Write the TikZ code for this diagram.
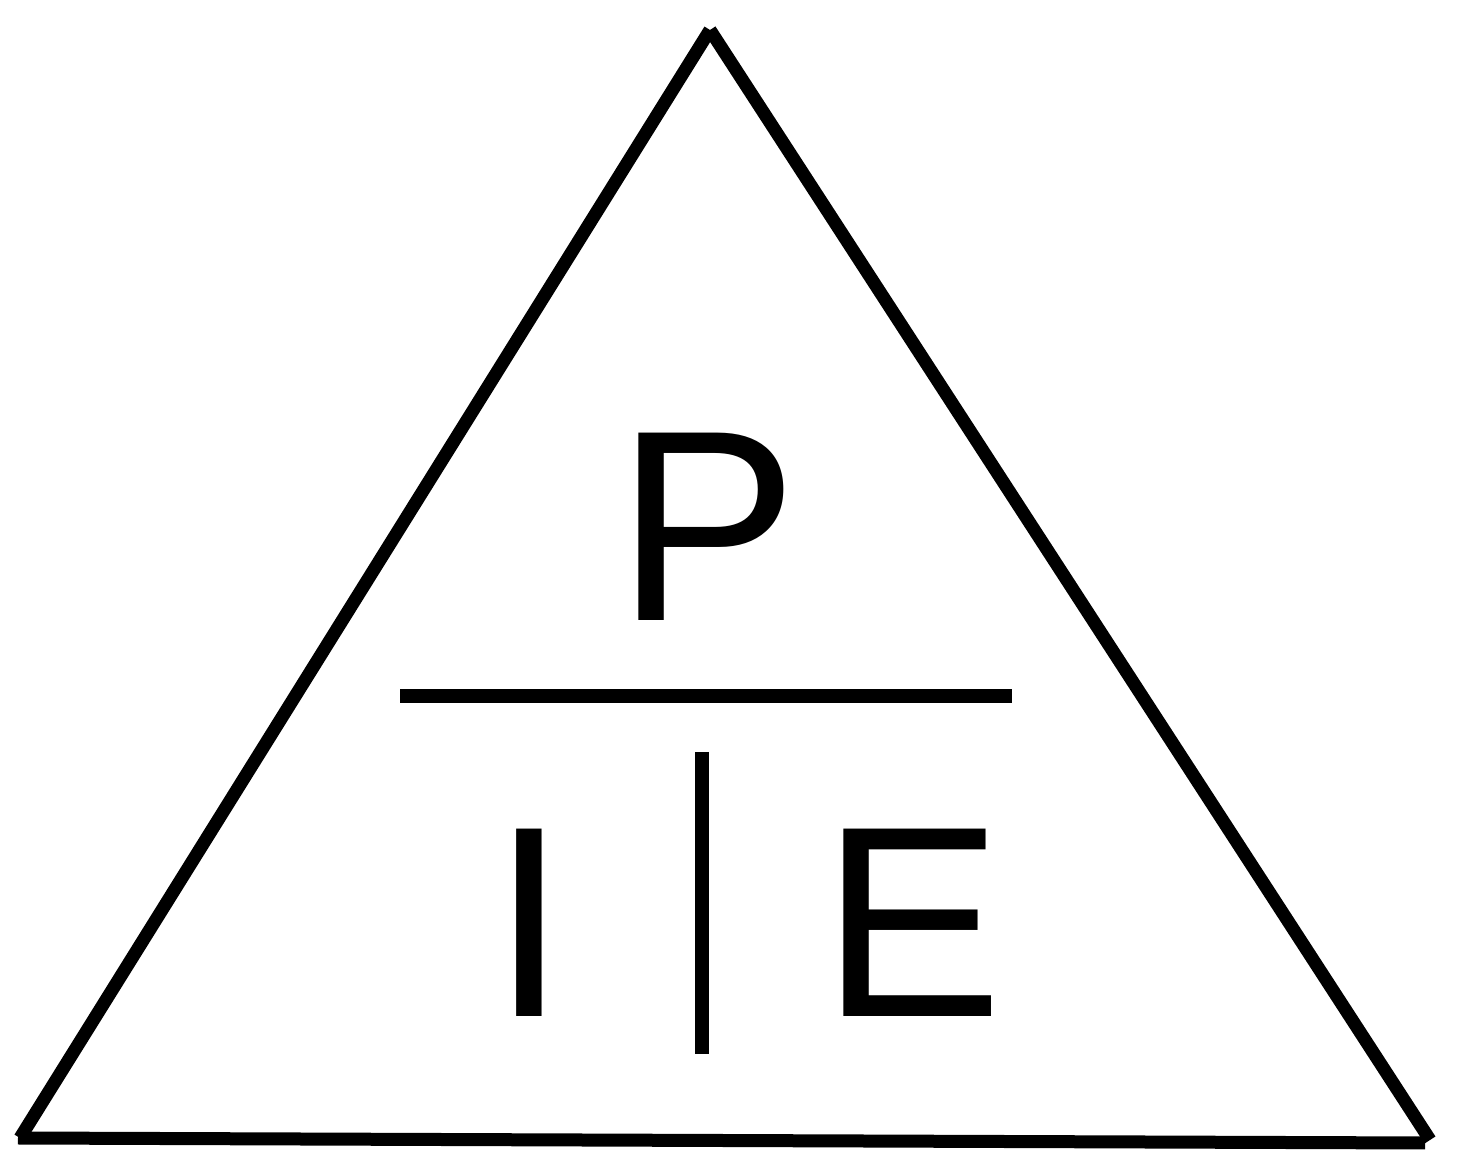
\documentclass[tikz,border=0pt]{standalone}
\usepackage{fontspec}
\setmainfont{Liberation Sans}
\usetikzlibrary{positioning}

\begin{document}
\begin{tikzpicture}[
  letter/.style={inner sep=0pt, anchor=base, font=\fontsize{77.5}{90}\selectfont},
  edge/.style={line width=0.13cm, line cap=butt},
  bar/.style={line width=0.145cm, line cap=butt}
]
\useasboundingbox (0,0) rectangle (14.64,11.64);

% corners of the triangle
\coordinate (top) at (7.10,11.34);
\coordinate (bl)  at (0.20,0.26);
\coordinate (br)  at (14.30,0.24);
\coordinate (bl2) at (0.18,0.26);
\coordinate (br2) at (14.25,0.21);

\draw[edge] (bl) -- (top);
\draw[edge] (top) -- (br);
\draw[edge] (bl2) -- (br2);

% letters
\node[letter] (P) at (7.07,5.43) {P};
\node[letter] (I) at (5.29,1.47) {I};
\node[letter] (E) at (9.12,1.47) {E};

% dividers
\coordinate (hl) at (4.00,4.68);
\coordinate (hr) at (10.12,4.68);
\coordinate (vt) at (7.02,4.12);
\coordinate (vb) at (7.02,1.10);
\draw[bar] (hl) -- (hr);
\draw[bar] (vt) -- (vb);
\end{tikzpicture}
\end{document}
